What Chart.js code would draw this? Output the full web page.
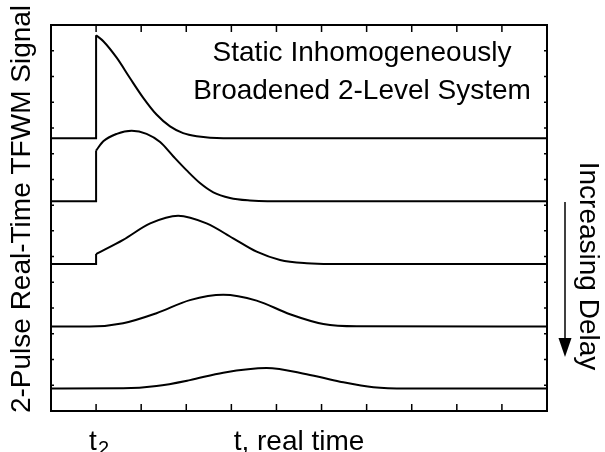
<!DOCTYPE html>
<html>
<head>
<meta charset="utf-8">
<script src="https://cdn.jsdelivr.net/npm/chart.js@4/dist/chart.umd.min.js"></script>
<style>
  body { margin: 0; background: #fff; }
  canvas { display: block; }
</style>
</head>
<body>
<canvas id="tfwm" width="605" height="452"></canvas>
<script>
// real time axis: 0..11, t2 at 1
var t2 = 1;
var xTicks = [1, 2, 3, 4, 5, 6, 7, 8, 9, 10];
var yTicks = [1, 2, 3, 4, 5, 6, 7, 8, 9, 10, 11, 12, 13, 14];

// baselines and signal jump at t2
var baseLines = [10.60, 8.15, 5.71, 3.28, 0.87];
var jumpValues = [14.60, 10.12, 6.10];

// curve 1 (shortest delay)
var c1Time = [1, 1.16, 1.46, 1.75, 2.05, 2.34, 2.64, 2.93, 3.23, 3.82, 11];
var c1Value = [14.60, 14.37, 13.72, 12.94, 12.16, 11.52, 11.06, 10.80, 10.68, 10.60, 10.60];

// curve 2
var c2Time = [1, 1.16, 1.46, 1.79, 2.12, 2.42, 2.71, 3.01, 3.31, 3.60, 3.97, 4.41, 4.80, 11];
var c2Value = [10.12, 10.48, 10.77, 10.89, 10.77, 10.45, 9.90, 9.35, 8.85, 8.50, 8.28, 8.18, 8.15, 8.15];

// curve 3
var c3Time = [1, 1.60, 2.20, 2.82, 3.45, 4.04, 4.56, 5.08, 5.67, 6.19, 11];
var c3Value = [6.10, 6.65, 7.29, 7.59, 7.29, 6.71, 6.19, 5.87, 5.74, 5.71, 5.71];

// curve 4
var c4Time = [0, 0.86, 1.60, 2.34, 3.08, 3.82, 4.56, 5.30, 6.04, 6.78, 11];
var c4Value = [3.28, 3.28, 3.41, 3.80, 4.31, 4.52, 4.29, 3.76, 3.38, 3.29, 3.28];

// curve 5 (longest delay)
var c5Time = [0, 1.60, 2.34, 3.08, 3.82, 4.78, 5.67, 6.41, 7.15, 7.89, 11];
var c5Value = [0.87, 0.88, 0.97, 1.20, 1.49, 1.67, 1.43, 1.14, 0.92, 0.87, 0.87];

var FONT = '"Liberation Sans", Arial, sans-serif';

function pts(xs, ys) {
  return xs.map(function (x, i) { return { x: x, y: ys[i] }; });
}

function smooth(xs, ys) {
  return {
    data: pts(xs, ys),
    borderColor: '#000',
    borderWidth: 2,
    pointRadius: 0,
    cubicInterpolationMode: 'monotone',
  };
}

// flat part before t2 plus the vertical jump
function step(i) {
  return {
    data: pts([0, t2, t2], [baseLines[i], baseLines[i], jumpValues[i]]),
    borderColor: '#000',
    borderWidth: 2,
    pointRadius: 0,
    tension: 0,
  };
}

var decor = {
  id: 'decor',
  afterDraw: function (chart) {
    var ctx = chart.ctx;
    var a = chart.chartArea;
    var x = chart.scales.x;
    var y = chart.scales.y;
    ctx.save();

    // frame
    ctx.strokeStyle = '#000';
    ctx.lineWidth = 2;
    ctx.strokeRect(a.left, a.top, a.right - a.left, a.bottom - a.top);

    // inward ticks
    ctx.lineWidth = 1.5;
    ctx.beginPath();
    xTicks.forEach(function (v) {
      var px = x.getPixelForValue(v);
      ctx.moveTo(px, a.bottom); ctx.lineTo(px, a.bottom - 7);
      ctx.moveTo(px, a.top); ctx.lineTo(px, a.top + 7);
    });
    yTicks.forEach(function (v) {
      var py = y.getPixelForValue(v);
      ctx.moveTo(a.left, py); ctx.lineTo(a.left + 3, py);
      ctx.moveTo(a.right, py); ctx.lineTo(a.right - 3, py);
    });
    ctx.stroke();

    ctx.fillStyle = '#000';
    ctx.textBaseline = 'alphabetic';

    // t2 label
    var tx = x.getPixelForValue(t2);
    ctx.textAlign = 'left';
    ctx.font = '28px ' + FONT;
    ctx.fillText('t', tx - 7, 450);
    ctx.font = '20px ' + FONT;
    ctx.fillText('2', tx + 2, 455);

    // x title
    ctx.font = '28px ' + FONT;
    ctx.textAlign = 'center';
    ctx.fillText('t, real time', (a.left + a.right) / 2, 450);

    // annotation
    ctx.fillText('Static Inhomogeneously', 362, 61);
    ctx.fillText('Broadened 2-Level System', 362, 99);

    // y title
    ctx.save();
    ctx.translate(30, 209);
    ctx.rotate(-Math.PI / 2);
    ctx.fillText('2-Pulse Real-Time TFWM Signal', 0, 0);
    ctx.restore();

    // increasing delay label
    ctx.save();
    ctx.translate(580, 266);
    ctx.rotate(Math.PI / 2);
    ctx.fillText('Increasing Delay', 0, 0);
    ctx.restore();

    // arrow
    ctx.lineWidth = 1.5;
    ctx.beginPath();
    ctx.moveTo(565, 202);
    ctx.lineTo(565, 342);
    ctx.stroke();
    ctx.beginPath();
    ctx.moveTo(558.5, 338);
    ctx.lineTo(571.5, 338);
    ctx.lineTo(565, 357);
    ctx.closePath();
    ctx.fill();

    ctx.restore();
  }
};

new Chart(document.getElementById('tfwm').getContext('2d'), {
  type: 'line',
  data: {
    datasets: [
      step(0), smooth(c1Time, c1Value),
      step(1), smooth(c2Time, c2Value),
      step(2), smooth(c3Time, c3Value),
      smooth(c4Time, c4Value),
      smooth(c5Time, c5Value),
    ],
  },
  options: {
    responsive: false,
    animation: false,
    layout: { padding: { left: 51, right: 58, top: 25, bottom: 41 } },
    plugins: { legend: { display: false }, tooltip: { enabled: false } },
    scales: {
      x: { type: 'linear', min: 0, max: 11, display: false },
      y: { type: 'linear', min: 0, max: 15, display: false },
    },
  },
  plugins: [decor],
});
</script>
</body>
</html>
